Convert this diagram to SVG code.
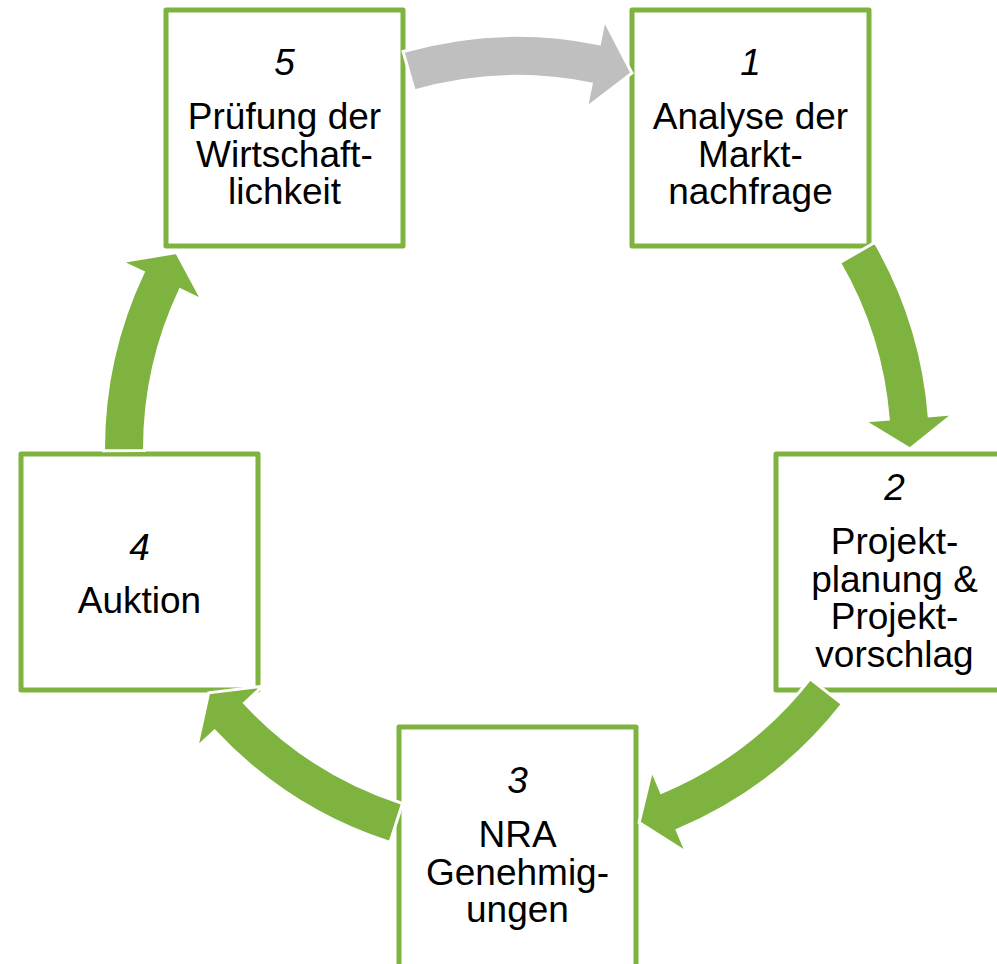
<svg xmlns="http://www.w3.org/2000/svg" width="997" height="964" viewBox="0 0 997 964">
<style>
.box{fill:#ffffff;stroke:#7DB33E;stroke-width:5;stroke-linejoin:round}
.arr{fill:#7DB33E;stroke:#ffffff;stroke-width:3;stroke-linejoin:miter}
.gray{fill:#BFBFBF}
text{font-family:"Liberation Sans",Arial,sans-serif;font-size:37px;fill:#000000;text-anchor:middle}
.num{font-style:italic}
</style>
<rect width="997" height="964" fill="#ffffff"/>
<g id="node5">
<rect class="box" x="166" y="10" width="237" height="236"/>
<text class="num" x="284.5" y="75">5</text>
<text x="284.5" y="129">Prüfung der</text>
<text x="284.5" y="166.5">Wirtschaft-</text>
<text x="284.5" y="204">lichkeit</text>
</g>
<g id="node1">
<rect class="box" x="632" y="10" width="237" height="236"/>
<text class="num" x="750.5" y="75">1</text>
<text x="750.5" y="129">Analyse der</text>
<text x="750.5" y="166.5">Markt-</text>
<text x="750.5" y="204">nachfrage</text>
</g>
<g id="node2">
<rect class="box" x="776" y="454" width="237" height="236"/>
<text class="num" x="894.5" y="500">2</text>
<text x="894.5" y="554">Projekt-</text>
<text x="894.5" y="591.5">planung &amp;</text>
<text x="894.5" y="629">Projekt-</text>
<text x="894.5" y="666.5">vorschlag</text>
</g>
<g id="node3">
<rect class="box" x="399" y="727" width="237" height="240"/>
<text class="num" x="517.5" y="793">3</text>
<text x="517.5" y="847">NRA</text>
<text x="517.5" y="884.5">Genehmig-</text>
<text x="517.5" y="922">ungen</text>
</g>
<g id="node4">
<rect class="box" x="21" y="454" width="237" height="236"/>
<text class="num" x="139.5" y="560">4</text>
<text x="139.5" y="613">Auktion</text>
</g>
<g id="connectors">
<path class="arr gray" d="M403.02,51.52 A413.5,413.5 0 0 1 599.44,43.80 L604.32,19.80 L631.90,73.17 L586.38,107.99 L591.27,83.98 A372.5,372.5 0 0 0 414.32,90.93 Z"/>
<path class="arr" d="M875.10,242.25 A413.5,413.5 0 0 1 929.17,415.84 L953.59,413.87 L910,449 L863.88,421.09 L888.30,419.13 A372.5,372.5 0 0 0 839.59,262.75 Z"/>
<path class="arr" d="M842.40,704.15 A413.5,413.5 0 0 1 677.24,830.19 L686.73,852.77 L639.10,822.55 L651.86,769.81 L661.35,792.39 A372.5,372.5 0 0 0 810.13,678.85 Z"/>
<path class="arr" d="M389.91,842.48 A413.5,413.5 0 0 1 214.59,731.01 L196.67,747.72 L208.72,692.75 L262.49,686.34 L244.57,703.05 A372.5,372.5 0 0 0 402.51,803.47 Z"/>
<path class="arr" d="M103.5,450.80 A413.5,413.5 0 0 1 143.16,272.29 L121.01,261.82 L176.65,252.5 L202.38,300.28 L180.23,289.81 A372.5,372.5 0 0 0 144.5,450.62 Z"/>
</g>
</svg>
